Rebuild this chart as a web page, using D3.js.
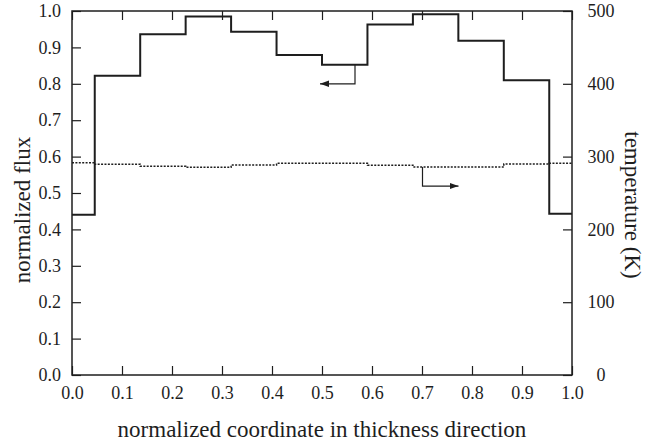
<!DOCTYPE html>
<html>
<head>
<meta charset="utf-8">
<script src="https://cdn.jsdelivr.net/npm/d3@7/dist/d3.min.js"></script>
<style>
  html, body { margin: 0; padding: 0; background: #fff; }
  svg { display: block; }
</style>
</head>
<body>
<svg id="chart" width="645" height="442"></svg>
<script>
// ---- data ----
const binEdges = [0, 0.0455, 0.1364, 0.2273, 0.3182, 0.4091, 0.5, 0.5909, 0.6818, 0.7727, 0.8636, 0.9545, 1.0];
const fluxValues = [0.440, 0.822, 0.936, 0.985, 0.943, 0.879, 0.852, 0.963, 0.991, 0.918, 0.810, 0.443];
const tempValues = [291.5, 289.4, 286.7, 285.3, 288.5, 290.8, 290.8, 288.0, 285.7, 285.7, 289.8, 290.8];
const xTicks = [0, 0.1, 0.2, 0.3, 0.4, 0.5, 0.6, 0.7, 0.8, 0.9, 1.0];
const yTicks = [0, 0.1, 0.2, 0.3, 0.4, 0.5, 0.6, 0.7, 0.8, 0.9, 1.0];
const y2Ticks = [0, 100, 200, 300, 400, 500];
const fluxArrow = [[0.566, 0.852], [0.566, 0.800], [0.496, 0.800]];   // (x, flux)
const tempArrow = [[0.701, 285.7], [0.701, 259.5], [0.773, 259.5]];   // (x, temperature)
const xLabel = "normalized coordinate in thickness direction";
const yLabel = "normalized flux";
const y2Label = "temperature (K)";

// ---- layout ----
const L = 72, R = 572, T = 11, B = 375;
const FONT = "'Liberation Serif', 'Times New Roman', Times, 'DejaVu Serif', serif";
const svg = d3.select("#chart");
const x = d3.scaleLinear().domain([0, 1]).range([L, R]);
const y = d3.scaleLinear().domain([0, 1]).range([B, T]);
const y2 = d3.scaleLinear().domain([0, 500]).range([B, T]);

const ink = "#1e1e1e";
const tickFont = 18, titleFont = 23;

svg.append("defs").append("marker")
  .attr("id", "ah").attr("markerUnits", "userSpaceOnUse")
  .attr("viewBox", "0 -4 9 8").attr("refX", 9).attr("refY", 0)
  .attr("markerWidth", 9).attr("markerHeight", 8).attr("orient", "auto")
  .append("path").attr("d", "M0,-3.2L9,0L0,3.2Z").attr("fill", ink);

function styleAxis(g) {
  g.attr("font-family", FONT);
  g.select(".domain").remove();
  g.selectAll(".tick line").attr("stroke", ink).attr("stroke-width", 1.2);
  g.selectAll(".tick text").style("font-family", FONT).style("font-size", tickFont + "px").attr("fill", ink);
}

svg.append("g").attr("transform", `translate(0,${B})`)
  .call(d3.axisBottom(x).tickValues(xTicks).tickFormat(d3.format(".1f")).tickSizeInner(-9).tickSizeOuter(0).tickPadding(11))
  .call(styleAxis);
svg.append("g").attr("transform", `translate(0,${T})`)
  .call(d3.axisTop(x).tickValues(xTicks).tickFormat("").tickSizeInner(-9).tickSizeOuter(0))
  .call(styleAxis);
svg.append("g").attr("transform", `translate(${L},0)`)
  .call(d3.axisLeft(y).tickValues(yTicks).tickFormat(d3.format(".1f")).tickSizeInner(-9).tickSizeOuter(0).tickPadding(11))
  .call(styleAxis);
const gR = svg.append("g").attr("transform", `translate(${R},0)`)
  .call(d3.axisRight(y2).tickValues(y2Ticks).tickFormat(d3.format("d")).tickSizeInner(-9).tickSizeOuter(0).tickPadding(29))
  .call(styleAxis);
gR.selectAll(".tick text").attr("text-anchor", "middle");

svg.append("rect").attr("x", L).attr("y", T).attr("width", R - L).attr("height", B - T)
  .attr("fill", "none").attr("stroke", ink).attr("stroke-width", 1.5);

const fluxPts = fluxValues.map((v, i) => [binEdges[i], v]).concat([[binEdges[binEdges.length - 1], fluxValues[fluxValues.length - 1]]]);
const tempPts = tempValues.map((v, i) => [binEdges[i], v]).concat([[binEdges[binEdges.length - 1], tempValues[tempValues.length - 1]]]);

svg.append("path").datum(fluxPts)
  .attr("d", d3.line().x(d => x(d[0])).y(d => y(d[1])).curve(d3.curveStepAfter))
  .attr("fill", "none").attr("stroke", ink).attr("stroke-width", 2);

svg.append("path").datum(tempPts)
  .attr("d", d3.line().x(d => x(d[0])).y(d => y2(d[1])).curve(d3.curveStepAfter))
  .attr("fill", "none").attr("stroke", ink).attr("stroke-width", 1.5).attr("stroke-dasharray", "2,1.4");

svg.append("path").datum(fluxArrow)
  .attr("d", d3.line().x(d => x(d[0])).y(d => y(d[1])))
  .attr("fill", "none").attr("stroke", ink).attr("stroke-width", 1.2).attr("marker-end", "url(#ah)");
svg.append("path").datum(tempArrow)
  .attr("d", d3.line().x(d => x(d[0])).y(d => y2(d[1])))
  .attr("fill", "none").attr("stroke", ink).attr("stroke-width", 1.2).attr("marker-end", "url(#ah)");

function title(sel) { return sel.style("font-family", FONT).style("font-size", titleFont + "px").attr("fill", ink).attr("text-anchor", "middle"); }
svg.append("text").attr("x", (L + R) / 2).attr("y", 437).call(title).text(xLabel);
svg.append("text").attr("transform", "translate(30,210) rotate(-90)").call(title).text(yLabel);
svg.append("text").attr("transform", "translate(625,205) rotate(90)").call(title).text(y2Label);
</script>
</body>
</html>
